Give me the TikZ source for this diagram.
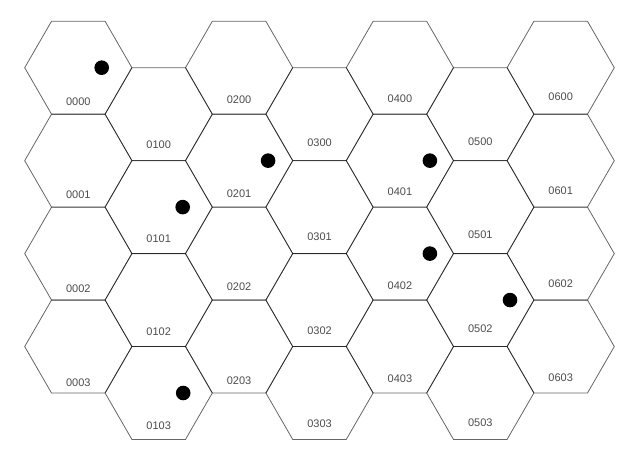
\documentclass[tikz,border=0pt]{standalone}
\usepackage{fontspec}
\setmainfont{Liberation Sans}
\tikzset{
  hex/.style = {draw=black, draw opacity=0.6, line width=0.8pt},
  hexlabel/.style = {text=black!70, font=\fontsize{11}{13}\selectfont, inner sep=0pt},
  counter/.style = {circle, fill=black, inner sep=0pt, minimum size=14.6pt}
}

\begin{document}
\begin{tikzpicture}[x=1pt,y=-1pt]
  \useasboundingbox (0,0) rectangle (640,468);
  \foreach \c in {0,...,6}
    \foreach \r in {0,...,3}{
      \pgfmathsetmacro{\hx}{78.3+80.4*\c}
      \pgfmathsetmacro{\hy}{67.7+92.95*\r+46.45*mod(\c,2)}
      \pgfmathsetmacro{\ly}{101.5+93.6*\r+44*mod(\c,2)-0.8*\c}
      \draw[hex,shift={(\hx,\hy)}] (0:53.6) -- (60:53.6) -- (120:53.6)
        -- (180:53.6) -- (240:53.6) -- (300:53.6) -- cycle;
      \node[hexlabel] (hex0\c0\r) at (\hx,\ly) {0\c0\r};
    }
  % counters on the map
  \foreach \c/\r/\dx in {0/0/23.4, 1/1/24, 2/1/29, 4/1/30, 4/2/30, 5/2/29.7, 1/3/24.5}{
    \pgfmathsetmacro{\hx}{78.3+80.4*\c+\dx}
    \pgfmathsetmacro{\hy}{67.7+92.95*\r+46.45*mod(\c,2)}
    \node[counter] (unit0\c0\r) at (\hx,\hy) {};
  }
\end{tikzpicture}
\end{document}
